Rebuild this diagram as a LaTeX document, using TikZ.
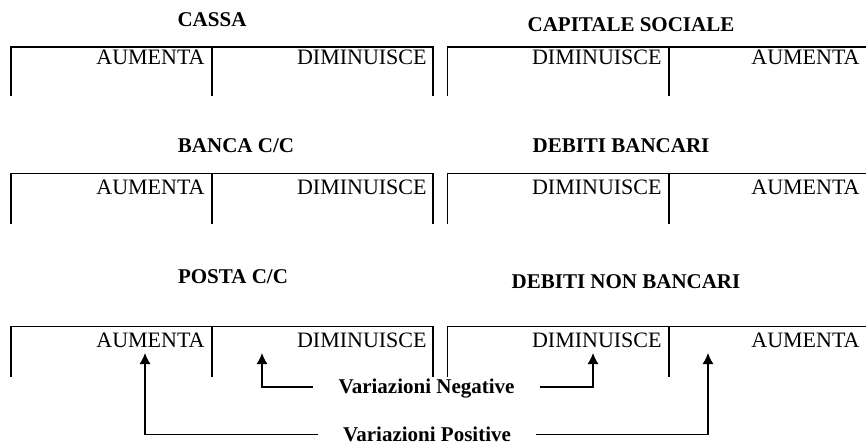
\documentclass[tikz,border=0pt]{standalone}
\usepackage{fontspec}
\setmainfont{Liberation Serif}
\usetikzlibrary{arrows.meta}
\tikzset{
  tline/.style={line width=0.6pt},
  col/.style={inner sep=0pt, anchor=base east, font=\fontsize{11}{13}\selectfont},
  ttl/.style={inner sep=0pt, anchor=base, font=\fontsize{10.5}{12}\selectfont\bfseries},
  var/.style={inner xsep=12.5pt, inner ysep=0pt, text height=6.9pt, text depth=0pt, font=\fontsize{10.5}{12}\selectfont\bfseries},
  arr/.style={line width=0.6pt, -{Latex[length=5.5pt,width=5.5pt]}}
}
\begin{document}
\begin{tikzpicture}[x=0.5pt,y=-0.5pt]
\useasboundingbox (0,0) rectangle (866,443);
% Titles
\node[ttl] (cassa) at (212,27) {CASSA};
\node[ttl] (capsoc) at (631,32) {CAPITALE SOCIALE};
\node[ttl] (banca) at (236,153) {BANCA C/C};
\node[ttl] (debb) at (621,153) {DEBITI BANCARI};
\node[ttl] (posta) at (233,283) {POSTA C/C};
\node[ttl] (debnb) at (626,288) {DEBITI NON BANCARI};
% Row 1
\draw[tline] (11,96) -- (11,47) -- (433,47) -- (433,96);
\draw[tline] (212,47) -- (212,96);
\draw[tline] (447.5,96) -- (447.5,47) -- (866,47);
\draw[tline] (669,47) -- (669,96);
\node[col] (a1l) at (205,65) {AUMENTA};
\node[col] (d1l) at (427,65) {DIMINUISCE};
\node[col] (d1r) at (662,65) {DIMINUISCE};
\node[col] (a1r) at (860,65) {AUMENTA};
% Row 2
\draw[tline] (11,224) -- (11,173.5) -- (433,173.5) -- (433,224);
\draw[tline] (212,173.5) -- (212,224);
\draw[tline] (447.5,224) -- (447.5,173.5) -- (866,173.5);
\draw[tline] (669,173.5) -- (669,224);
\node[col] (a2l) at (205,195) {AUMENTA};
\node[col] (d2l) at (427,195) {DIMINUISCE};
\node[col] (d2r) at (662,195) {DIMINUISCE};
\node[col] (a2r) at (860,195) {AUMENTA};
% Row 3
\draw[tline] (11,377) -- (11,326.5) -- (433,326.5) -- (433,377);
\draw[tline] (212,326.5) -- (212,377);
\draw[tline] (447.5,377) -- (447.5,326.5) -- (866,326.5);
\draw[tline] (669,326.5) -- (669,377);
\node[col] (a3l) at (205,347) {AUMENTA};
\node[col] (d3l) at (427,347) {DIMINUISCE};
\node[col] (d3r) at (662,347) {DIMINUISCE};
\node[col] (a3r) at (860,347) {AUMENTA};
% Variations
\node[var] (neg) at (426.5,387) {Variazioni Negative};
\node[var] (pos) at (427,434.5) {Variazioni Positive};
\coordinate (tnl) at (262,353);
\coordinate (tnr) at (593,353);
\coordinate (tpl) at (145,353);
\coordinate (tpr) at (708,353);
\draw[arr] (neg.west) -| (tnl);
\draw[arr] (neg.east) -| (tnr);
\draw[arr] (pos.west) -| (tpl);
\draw[arr] (pos.east) -| (tpr);
\end{tikzpicture}
\end{document}
